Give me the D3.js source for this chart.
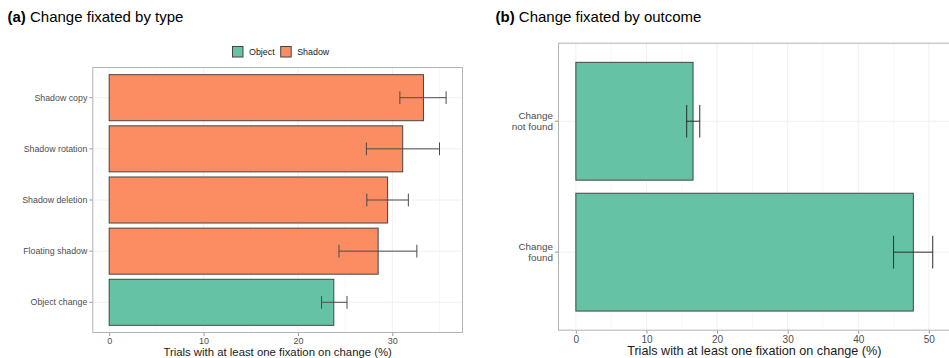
<!DOCTYPE html>
<html>
<head>
<meta charset="utf-8">
<script src="https://cdn.jsdelivr.net/npm/d3@7/dist/d3.min.js"></script>
<style>
  html, body { margin: 0; padding: 0; background: #fff; }
  svg { display: block; font-family: "Liberation Sans", Arial, Helvetica, sans-serif; }
</style>
</head>
<body>
<svg id="chart" width="949" height="358"></svg>
<script>
// Panel (a): fixation on change by change type
const typeCategories = ["Shadow copy", "Shadow rotation", "Shadow deletion", "Floating shadow", "Object change"];
const typeGroups     = ["Shadow", "Shadow", "Shadow", "Shadow", "Object"];
const typeValues     = [33.3, 31.1, 29.5, 28.5, 23.8];
const typeLower      = [30.8, 27.25, 27.3, 24.35, 22.5];
const typeUpper      = [35.7, 35.0, 31.7, 32.6, 25.2];
const typeTicks      = [0, 10, 20, 30];

// Panel (b): fixation on change by search outcome
const outcomeCategories = [["Change", "not found"], ["Change", "found"]];
const outcomeValues     = [16.6, 47.8];
const outcomeLower      = [15.7, 45.0];
const outcomeUpper      = [17.55, 50.55];
const outcomeTicks      = [0, 10, 20, 30, 40, 50];

const legendGroups = ["Object", "Shadow"];
const groupColor = d3.scaleOrdinal().domain(legendGroups).range(["#66C2A5", "#FC8D62"]);

const svg = d3.select("#chart");
const GRID = "#f0f0f0", BORDER = "#b3b3b3", OUTLINE = "#454545", TICKTXT = "#4d4d4d";

function panel(opts) {
  const { left, top, right, bottom, xDomain, ticks, minorTicks, cats, values, lower, upper,
          colors, errColor, tickFont, titleFont, catFont, multiLine } = opts;
  const g = svg.append("g");
  const x = d3.scaleLinear().domain(xDomain).range([left, right]);
  const y = d3.scaleBand().domain(d3.range(cats.length)).range([top, bottom])
              .paddingInner(0.1).paddingOuter(0.15).align(0.5);
  const step = y.step();

  // grid: minor, major vertical, horizontal at category centres
  g.selectAll(".minor").data(minorTicks).join("line")
    .attr("x1", d => x(d)).attr("x2", d => x(d)).attr("y1", top).attr("y2", bottom)
    .attr("stroke", "#f6f6f6").attr("stroke-width", 0.8);
  g.selectAll(".major").data(ticks).join("line")
    .attr("x1", d => x(d)).attr("x2", d => x(d)).attr("y1", top).attr("y2", bottom)
    .attr("stroke", GRID).attr("stroke-width", 1);
  g.selectAll(".hgrid").data(d3.range(cats.length)).join("line")
    .attr("x1", left).attr("x2", right)
    .attr("y1", d => y(d) + y.bandwidth() / 2).attr("y2", d => y(d) + y.bandwidth() / 2)
    .attr("stroke", GRID).attr("stroke-width", 1);

  // bars
  g.selectAll(".bar").data(values).join("rect")
    .attr("x", x(0)).attr("y", (d, i) => y(i))
    .attr("width", d => x(d) - x(0)).attr("height", y.bandwidth())
    .attr("fill", (d, i) => colors[i]).attr("stroke", OUTLINE).attr("stroke-width", 1);

  // error bars
  const cap = step * 0.25 / 2;
  const eb = g.selectAll(".err").data(values).join("g").attr("stroke", errColor).attr("stroke-width", 1).attr("fill", "none");
  eb.append("line").attr("x1", (d, i) => x(lower[i])).attr("x2", (d, i) => x(upper[i]))
    .attr("y1", (d, i) => y(i) + y.bandwidth() / 2).attr("y2", (d, i) => y(i) + y.bandwidth() / 2);
  eb.append("line").attr("x1", (d, i) => x(lower[i])).attr("x2", (d, i) => x(lower[i]))
    .attr("y1", (d, i) => y(i) + y.bandwidth() / 2 - cap).attr("y2", (d, i) => y(i) + y.bandwidth() / 2 + cap);
  eb.append("line").attr("x1", (d, i) => x(upper[i])).attr("x2", (d, i) => x(upper[i]))
    .attr("y1", (d, i) => y(i) + y.bandwidth() / 2 - cap).attr("y2", (d, i) => y(i) + y.bandwidth() / 2 + cap);

  // panel border
  g.append("rect").attr("x", left + 0.5).attr("y", top + 0.5)
    .attr("width", right - left - 1).attr("height", bottom - top - 1)
    .attr("fill", "none").attr("stroke", BORDER).attr("stroke-width", 1);

  // x axis
  const xAxis = d3.axisBottom(x).tickValues(ticks).tickSize(3).tickPadding(2).tickFormat(d3.format("d"));
  const ax = g.append("g").attr("transform", `translate(0,${bottom})`).call(xAxis);
  ax.select(".domain").remove();
  ax.selectAll(".tick line").attr("stroke", "#999");
  ax.selectAll(".tick text").attr("fill", TICKTXT).attr("font-size", tickFont).attr("font-family", null);

  // y axis
  const yAxis = d3.axisLeft(y).tickSize(3).tickPadding(2).tickFormat("");
  const ay = g.append("g").attr("transform", `translate(${left},0)`).call(yAxis);
  ay.select(".domain").remove();
  ay.selectAll(".tick line").attr("stroke", "#999");
  ay.selectAll(".tick").each(function (d, i) {
    const lines = multiLine ? cats[i] : [cats[i]];
    const t = d3.select(this).append("text")
      .attr("x", -5).attr("text-anchor", "end").attr("fill", TICKTXT)
      .attr("font-size", catFont);
    const lh = catFont * 1.1;
    lines.forEach((s, k) => {
      t.append("tspan").attr("x", -5)
        .attr("y", (k - (lines.length - 1) / 2) * lh)
        .attr("dy", "0.35em").text(s);
    });
  });

  // axis title
  svg.append("text").attr("x", (left + right) / 2).attr("y", opts.titleY)
    .attr("text-anchor", "middle").attr("font-size", titleFont).attr("fill", "#1a1a1a")
    .text("Trials with at least one fixation on change (%)");
}

// Panel (a)
panel({
  left: 92.3, top: 67, right: 463, bottom: 333,
  xDomain: [-1.79, 37.49], ticks: typeTicks, minorTicks: [5, 15, 25, 35],
  cats: typeCategories, values: typeValues, lower: typeLower, upper: typeUpper,
  colors: typeGroups.map(g => groupColor(g)), errColor: "#4a4a4a",
  tickFont: 9, titleFont: 11.35, catFont: 8.8, titleY: 355.5, multiLine: false
});

// Panel (b)
panel({
  left: 558, top: 42.7, right: 950.6, bottom: 330.7,
  xDomain: [-2.53, 53.08], ticks: outcomeTicks, minorTicks: [5, 15, 25, 35, 45],
  cats: outcomeCategories, values: outcomeValues, lower: outcomeLower, upper: outcomeUpper,
  colors: outcomeValues.map(() => groupColor("Object")), errColor: "#2b2b2b",
  tickFont: 10, titleFont: 12.64, catFont: 9.9, titleY: 355, multiLine: true
});

// Panel titles
function title(x, tag, rest) {
  const t = svg.append("text").attr("x", x).attr("y", 22).attr("font-size", 15).attr("fill", "#000");
  t.append("tspan").attr("font-weight", "bold").text(tag);
  t.append("tspan").text(" " + rest);
}
title(7.5, "(a)", "Change fixated by type");
title(495.5, "(b)", "Change fixated by outcome");

// Legend for panel (a)
const legend = svg.append("g");
const legendX = [232.5, 280.7];
legendGroups.forEach((gname, i) => {
  legend.append("rect").attr("x", legendX[i]).attr("y", 46.5).attr("width", 10.5).attr("height", 10.5)
    .attr("fill", groupColor(gname)).attr("stroke", OUTLINE).attr("stroke-width", 1);
  legend.append("text").attr("x", legendX[i] + 16.5).attr("y", 51.8).attr("dy", "0.35em")
    .attr("font-size", 8.9).attr("fill", "#1a1a1a").text(gname);
});
</script>
</body>
</html>
